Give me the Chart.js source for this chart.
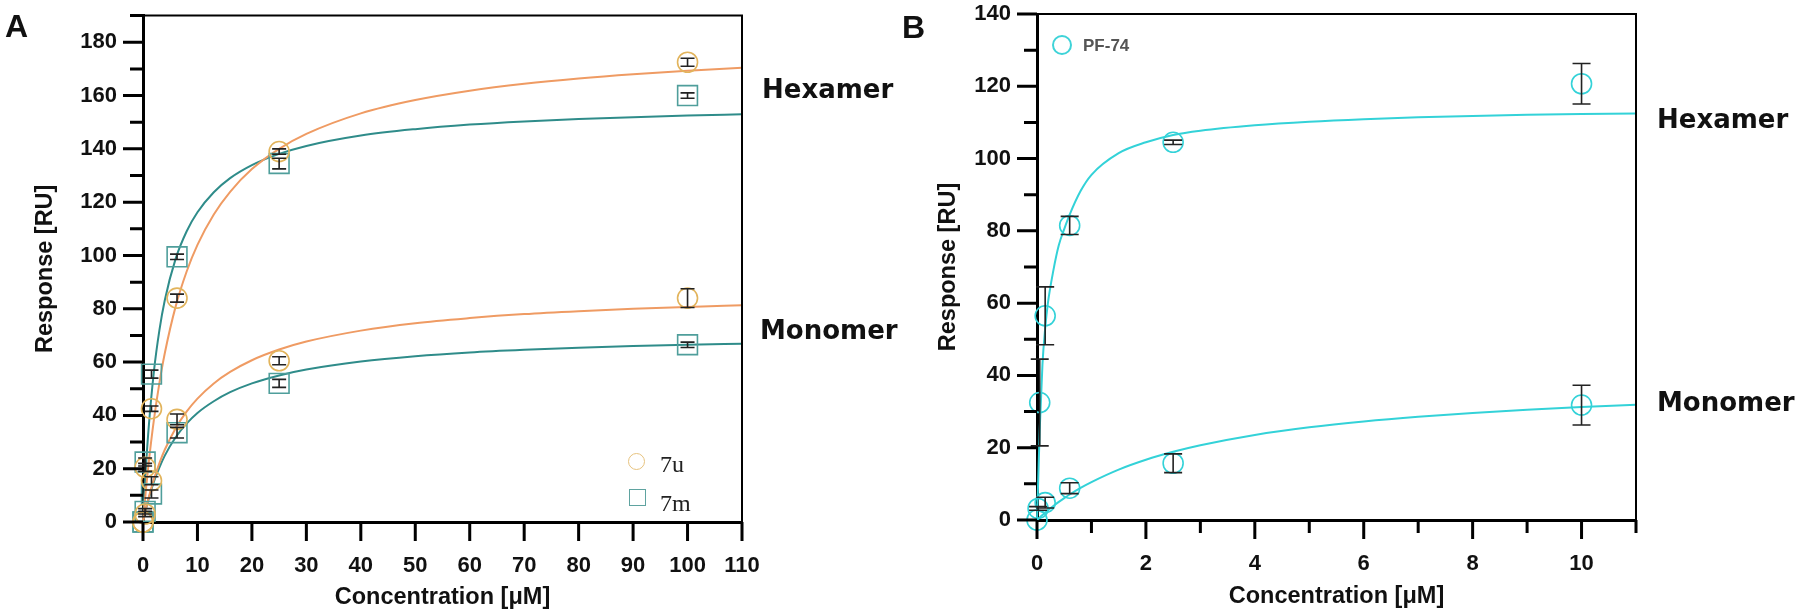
<!DOCTYPE html>
<html>
<head>
<meta charset="utf-8">
<script src="https://cdn.jsdelivr.net/npm/chart.js@4.4.0/dist/chart.umd.min.js"></script>
<style>
  body { margin: 0; background: #fff; }
  #wrap { position: relative; width: 1800px; height: 614px; overflow: hidden; }
  canvas { position: absolute; top: 0; }
  .txt { position: absolute; white-space: nowrap; line-height: 1; color: #111; }
  .panel { font: bold 32px "Liberation Sans", Arial, sans-serif; }
  .form { font: bold 26px "DejaVu Sans", Verdana, sans-serif; }
  .leg { font: 24px "Liberation Serif", "Times New Roman", serif; color: #222; }
  .mk { position: absolute; box-sizing: border-box; }
</style>
</head>
<body>
<div id="wrap">
  <canvas id="chartA" width="900" height="614" style="left:0"></canvas>
  <canvas id="chartB" width="900" height="614" style="left:900px"></canvas>

  <div class="txt panel" style="left:5px;top:8px">A</div>
  <div class="txt panel" style="left:902px;top:9px">B</div>

  <div class="txt form" style="left:762px;top:74px">Hexamer</div>
  <div class="txt form" style="left:760px;top:315px">Monomer</div>
  <div class="txt form" style="left:1657px;top:104px">Hexamer</div>
  <div class="txt form" style="left:1657px;top:387px">Monomer</div>

  <div class="mk" style="left:628px;top:453px;width:17px;height:17px;border:1.5px solid #e6c27e;border-radius:50%"></div>
  <div class="txt leg" style="left:660px;top:451px">7u</div>
  <div class="mk" style="left:629px;top:489px;width:17px;height:17px;border:1.5px solid #5fa3a0"></div>
  <div class="txt leg" style="left:660px;top:490px">7m</div>

  <div class="mk" style="left:1052px;top:35px;width:20px;height:20px;border:2px solid #3ed3d8;border-radius:50%"></div>
  <div class="txt" style="left:1083px;top:36px;font:bold 17px 'Liberation Sans', Arial, sans-serif;color:#555">PF-74</div>
</div>

<script>
// ---- panel A: 7u / 7m ----
const concA = [0, 0.39, 1.56, 6.25, 25, 100];
const hex7u = [0, 20.5, 42.5, 84, 139, 172.5];
const hex7uErr = [0, 1.5, 1, 1.5, 1, 1.5];
const hex7m = [0, 22.5, 55.5, 99.5, 134.5, 160];
const hex7mErr = [0, 1.5, 1.5, 1, 2, 1];
const mon7u = [0, 3, 15.5, 38.5, 60.5, 84];
const mon7uErr = [0, 1, 1.5, 2, 1.5, 3.5];
const mon7m = [0, 4, 10.5, 33.5, 52, 66.5];
const mon7mErr = [0, 1, 1.5, 2, 1.5, 1];

const fitXA = [0, 0.5, 1, 2, 3, 4, 6, 8, 10, 13, 16, 20, 25, 30, 40, 50, 60, 70, 80, 90, 100, 110];
const hex7uFit = [0, 11.4, 21.4, 38.3, 52, 63.3, 80.9, 93.9, 104, 115.4, 123.9, 132.4, 140, 145.6, 153.3, 158.3, 161.8, 164.4, 166.4, 168, 169.3, 170.4];
const hex7mFit = [0, 19.3, 34.3, 56.4, 71.8, 83.2, 98.8, 109, 116.2, 123.7, 129, 133.9, 138.1, 141.1, 145, 147.4, 149.1, 150.3, 151.2, 151.9, 152.5, 153];
const mon7uFit = [0, 4.6, 8.8, 16, 22, 27.1, 35.2, 41.4, 46.3, 52, 56.3, 60.7, 64.7, 67.7, 71.8, 74.6, 76.5, 78, 79.1, 80, 80.7, 81.3];
const mon7mFit = [0, 4.5, 8.4, 15.1, 20.4, 24.9, 31.8, 36.9, 40.9, 45.3, 48.7, 52, 55, 57.2, 60.2, 62.2, 63.6, 64.6, 65.4, 66, 66.5, 66.9];

const xLabelsA = [0, 10, 20, 30, 40, 50, 60, 70, 80, 90, 100, 110];
const yLabelsA = [0, 20, 40, 60, 80, 100, 120, 140, 160, 180];

// ---- panel B: PF-74 ----
const concHexB = [0.05, 0.15, 0.6, 2.5, 10];
const hexB = [32.5, 56.5, 81.5, 104.5, 120.7];
const hexBErr = [12, 8, 2.5, 0.6, 5.6];
const concMonB = [0, 0.02, 0.15, 0.6, 2.5, 10];
const monB = [0, 3.2, 4.8, 8.8, 15.7, 31.8];
const monBErr = [0, 0.5, 1.5, 1.5, 2.6, 5.5];

const fitXB = [0, 0.02, 0.05, 0.1, 0.15, 0.2, 0.3, 0.4, 0.5, 0.6, 0.8, 1, 1.5, 2, 2.5, 3, 4, 5, 6, 7, 8, 9, 10, 11];
const hexBFit = [0, 10, 25, 43, 53, 60, 69, 76, 80.5, 84.5, 91, 95.5, 101.5, 104.5, 106.5, 107.7, 109.2, 110.2, 110.9, 111.4, 111.8, 112.1, 112.3, 112.5];
const monBFit = [0, 0.28, 0.7, 1.38, 2.03, 2.67, 3.87, 5, 6.06, 7.06, 8.89, 10.5, 13.95, 16.67, 18.87, 20.69, 23.53, 25.64, 27.27, 28.57, 29.63, 30.51, 31.25, 31.88];

const xLabelsB = [0, 2, 4, 6, 8, 10];
const yLabelsB = [0, 20, 40, 60, 80, 100, 120, 140];

const ORANGE = '#ef9b63';
const GOLD = '#e2b45c';
const TEAL = '#2f8c8a';
const TEAL_PT = '#4f9e9b';
const CYAN = '#33d2d8';

function pts(xs, ys) {
    return xs.map((x, i) => ({ x: x, y: ys[i] }));
}

function markers(xs, ys, errs, style, color, radius) {
    return {
        data: pts(xs, ys), errs: errs, showLine: false,
        pointStyle: style, pointRadius: radius, pointBorderWidth: 1.6,
        borderColor: color, backgroundColor: 'rgba(0,0,0,0)', clip: false
    };
}

function curve(xs, ys, color) {
    return {
        data: pts(xs, ys), showLine: true, pointRadius: 0, borderWidth: 2,
        borderColor: color, cubicInterpolationMode: 'monotone', clip: false
    };
}

// tick marks (long for labelled values, short otherwise) and the thin top/right frame
const axisDecor = {
    id: 'axisDecor',
    afterDraw(chart) {
        const ctx = chart.ctx;
        const a = chart.chartArea;
        const xs = chart.scales.x, ys = chart.scales.y;
        ctx.save();
        ctx.strokeStyle = '#000';
        ctx.lineWidth = 3;
        ctx.beginPath();
        xs.ticks.forEach(t => {
            const px = xs.getPixelForValue(t.value);
            ctx.moveTo(px, a.bottom);
            ctx.lineTo(px, a.bottom + (t.label !== '' ? 19 : 13));
        });
        ys.ticks.forEach(t => {
            const py = ys.getPixelForValue(t.value);
            ctx.moveTo(a.left, py);
            ctx.lineTo(a.left - (t.label !== '' ? 20 : 13), py);
        });
        ctx.stroke();
        ctx.lineWidth = 2;
        ctx.beginPath();
        ctx.moveTo(a.left, a.top);
        ctx.lineTo(a.right, a.top);
        ctx.lineTo(a.right, a.bottom);
        ctx.stroke();
        ctx.restore();
    }
};

const errorBars = {
    id: 'errorBars',
    afterDatasetsDraw(chart) {
        const ctx = chart.ctx;
        const xs = chart.scales.x, ys = chart.scales.y;
        const cap = chart.options.plugins.errorBars.cap;
        ctx.save();
        ctx.strokeStyle = '#222';
        ctx.lineWidth = 1.6;
        chart.data.datasets.forEach(ds => {
            if (!ds.errs) return;
            ds.data.forEach((p, j) => {
                const e = ds.errs[j];
                if (!e) return;
                const px = xs.getPixelForValue(p.x);
                const top = ys.getPixelForValue(p.y + e);
                const bot = ys.getPixelForValue(p.y - e);
                ctx.beginPath();
                ctx.moveTo(px, top); ctx.lineTo(px, bot);
                ctx.moveTo(px - cap, top); ctx.lineTo(px + cap, top);
                ctx.moveTo(px - cap, bot); ctx.lineTo(px + cap, bot);
                ctx.stroke();
            });
        });
        ctx.restore();
    }
};

const tickFont = { family: '"Liberation Sans", Arial, sans-serif', weight: 'bold', size: 22 };
const titleFont = { family: '"Liberation Sans", Arial, sans-serif', weight: 'bold', size: 23.5 };

function options(o) {
    return {
        responsive: false,
        animation: false,
        events: [],
        layout: { padding: { top: o.top, right: o.right, left: 0, bottom: 0 } },
        plugins: { legend: { display: false }, tooltip: { enabled: false }, errorBars: { cap: o.cap } },
        scales: {
            x: {
                type: 'linear', min: 0, max: o.xMax,
                grid: { display: false, drawTicks: false },
                border: { display: true, color: '#000', width: 3 },
                ticks: {
                    stepSize: o.xStep, padding: 31, color: '#111', font: tickFont, maxRotation: 0,
                    autoSkip: false,
                    callback: v => o.xLabels.includes(v) ? String(v) : ''
                },
                title: { display: true, text: 'Concentration [μM]', color: '#111', font: titleFont, padding: { top: 0, bottom: o.xTitlePad } },
                afterFit: s => { s.height = o.xHeight; s.paddingLeft = 0; s.paddingRight = 0; }
            },
            y: {
                type: 'linear', min: 0, max: o.yMax,
                grid: { display: false, drawTicks: false },
                border: { display: true, color: '#000', width: 3 },
                ticks: {
                    stepSize: 10, padding: 26, color: '#111', font: tickFont, autoSkip: false,
                    callback: v => o.yLabels.includes(v) ? String(v) : ''
                },
                title: { display: true, text: 'Response [RU]', color: '#111', font: titleFont, padding: { top: o.yTitlePad, bottom: 0 } },
                afterFit: s => { s.width = o.yWidth; s.paddingTop = 0; s.paddingBottom = 0; }
            }
        }
    };
}

new Chart(document.getElementById('chartA'), {
    type: 'scatter',
    data: {
        datasets: [
            markers(concA, hex7u, hex7uErr, 'circle', GOLD, 10),
            markers(concA, mon7u, mon7uErr, 'circle', GOLD, 10),
            markers(concA, hex7m, hex7mErr, 'rect', TEAL_PT, 14),
            markers(concA, mon7m, mon7mErr, 'rect', TEAL_PT, 14),
            curve(fitXA, hex7uFit, ORANGE),
            curve(fitXA, mon7uFit, ORANGE),
            curve(fitXA, hex7mFit, TEAL),
            curve(fitXA, mon7mFit, TEAL)
        ]
    },
    options: options({
        top: 15, right: 158, xMax: 110, xStep: 10, yMax: 190,
        xLabels: xLabelsA, yLabels: yLabelsA,
        xHeight: 92, yWidth: 143, xTitlePad: 2, yTitlePad: 31, cap: 7
    }),
    plugins: [axisDecor, errorBars]
});

new Chart(document.getElementById('chartB'), {
    type: 'scatter',
    data: {
        datasets: [
            markers(concHexB, hexB, hexBErr, 'circle', CYAN, 10),
            markers(concMonB, monB, monBErr, 'circle', CYAN, 10),
            curve(fitXB, hexBFit, CYAN),
            curve(fitXB, monBFit, CYAN)
        ]
    },
    options: options({
        top: 14, right: 164, xMax: 11, xStep: 1, yMax: 140,
        xLabels: xLabelsB, yLabels: yLabelsB,
        xHeight: 94, yWidth: 137, xTitlePad: 3, yTitlePad: 34, cap: 9
    }),
    plugins: [axisDecor, errorBars]
});
</script>
</body>
</html>
